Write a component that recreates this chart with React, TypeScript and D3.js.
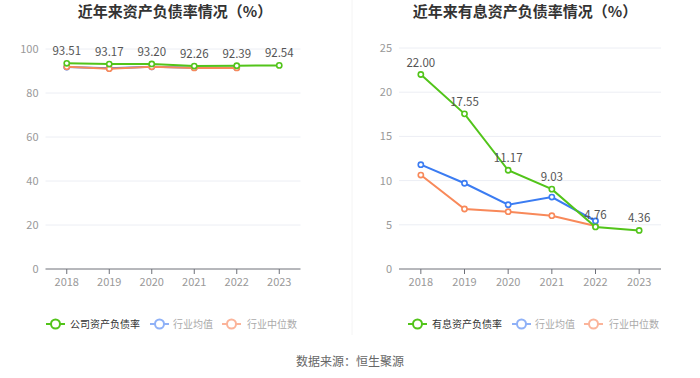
import React from "react";
import * as d3 from "d3";

const years = ["2018", "2019", "2020", "2021", "2022", "2023"];
const leftCompany = [93.51, 93.17, 93.2, 92.26, 92.39, 92.54];
const leftAvg = [91.8, 91.2, 91.9, 91.5, 91.5];
const leftMedian = [91.9, 91.05, 91.9, 91.4, 91.4];
const rightCompany = [22.0, 17.55, 11.17, 9.03, 4.76, 4.36];
const rightAvg = [11.8, 9.7, 7.27, 8.14, 5.43];
const rightMedian = [10.63, 6.79, 6.48, 6.03, 4.86];
const leftTicks = [0, 20, 40, 60, 80, 100];
const rightTicks = [0, 5, 10, 15, 20, 25];

const GREEN = "#52c41a";
const BLUE = "#3b7cf2";
const ORANGE = "#f8895a";
const FONT = "'Noto Sans CJK SC', 'Noto Sans', sans-serif";

type PanelProps = {
  title: string;
  x0: number;
  x1: number;
  yMax: number;
  yTop: number;
  ticks: number[];
  company: number[];
  avg: number[];
  median: number[];
  titleX: number;
  legendName: string;
  legendX: number;
  medianOnTop: boolean;
};

function Series({ data, color, xs, ys, labels }: { data: number[]; color: string; xs: d3.ScaleBand<string>; ys: d3.ScaleLinear<number, number>; labels?: boolean }) {
  const cx = (i: number) => (xs(years[i]) as number) + xs.bandwidth() / 2;
  const line = d3
    .line<number>()
    .x((_, i) => cx(i))
    .y((d) => ys(d));
  return (
    <g>
      <path d={line(data) || ""} fill="none" stroke={color} strokeWidth={2} />
      {data.map((d, i) => (
        <circle key={i} cx={cx(i)} cy={ys(d)} r={2.6} fill="#fff" stroke={color} strokeWidth={1.6} />
      ))}
      {labels &&
        data.map((d, i) => (
          <text key={"l" + i} x={cx(i)} y={ys(d) - 8} textAnchor="middle" fontSize={11.5} fill="#555" fontFamily={FONT}>
            {d.toFixed(2)}
          </text>
        ))}
    </g>
  );
}

function LegendIcon({ x, y, color }: { x: number; y: number; color: string }) {
  return (
    <g>
      <line x1={x} x2={x + 19} y1={y} y2={y} stroke={color} strokeWidth={2} />
      <circle cx={x + 9.5} cy={y} r={4.5} fill="#fff" stroke={color} strokeWidth={2} />
    </g>
  );
}

function Panel(p: PanelProps) {
  const xs = d3.scaleBand<string>().domain(years).range([p.x0, p.x1]).padding(0);
  const ys = d3.scaleLinear().domain([0, p.yMax]).range([269, p.yTop]);
  const ly = 324;
  const lx = p.legendX;
  return (
    <g>
      <text x={p.titleX} y={17} textAnchor="middle" fontSize={15} fontWeight="bold" fill="#333" fontFamily={FONT}>
        {p.title}
      </text>
      {p.ticks.map((t) => (
        <g key={t}>
          {t > 0 && <line x1={p.x0} x2={p.x1} y1={ys(t)} y2={ys(t)} stroke="#eceef4" strokeWidth={1} />}
          <text x={p.x0 - 7} y={ys(t) + 4} textAnchor="end" fontSize={11} fill="#999" fontFamily={FONT}>
            {t}
          </text>
        </g>
      ))}
      <line x1={p.x0} x2={p.x1} y1={269} y2={269} stroke="#6e7079" strokeWidth={1} />
      {years.map((y) => {
        const c = (xs(y) as number) + xs.bandwidth() / 2;
        return (
          <g key={y}>
            <line x1={c} x2={c} y1={269} y2={274} stroke="#6e7079" strokeWidth={1} />
            <text x={c} y={286} textAnchor="middle" fontSize={11} fill="#999" fontFamily={FONT}>
              {y}
            </text>
          </g>
        );
      })}
      {p.medianOnTop ? (
        <>
          <Series data={p.avg} color={BLUE} xs={xs} ys={ys} />
          <Series data={p.median} color={ORANGE} xs={xs} ys={ys} />
        </>
      ) : (
        <>
          <Series data={p.median} color={ORANGE} xs={xs} ys={ys} />
          <Series data={p.avg} color={BLUE} xs={xs} ys={ys} />
        </>
      )}
      <Series data={p.company} color={GREEN} xs={xs} ys={ys} labels />
      <LegendIcon x={lx} y={ly} color={GREEN} />
      <text x={lx + 24} y={ly + 4} fontSize={10} fill="#333" fontFamily={FONT}>
        {p.legendName}
      </text>
      <LegendIcon x={lx + 104} y={ly} color="#8fb1f7" />
      <text x={lx + 127} y={ly + 4} fontSize={10} fill="#aaa" fontFamily={FONT}>
        行业均值
      </text>
      <LegendIcon x={lx + 176} y={ly} color="#fbb49a" />
      <text x={lx + 201} y={ly + 4} fontSize={10} fill="#aaa" fontFamily={FONT}>
        行业中位数
      </text>
    </g>
  );
}

export default function App() {
  return (
    <div style={{ position: "fixed", left: 0, top: 0, width: 700, height: 378, background: "#fff" }}>
      <svg width={700} height={378} style={{ display: "block" }}>
        <rect width={700} height={378} fill="#fff" />
        <line x1={352} x2={352} y1={0} y2={335} stroke="#f4f4f4" strokeWidth={1} />
        <Panel
          title="近年来资产负债率情况（%）"
          x0={45.5}
          x1={300.5}
          yMax={100}
          yTop={49}
          ticks={leftTicks}
          company={leftCompany}
          avg={leftAvg}
          median={leftMedian}
          titleX={175}
          legendName="公司资产负债率"
          legendX={46}
          medianOnTop={true}
        />
        <Panel
          title="近年来有息资产负债率情况（%）"
          x0={399}
          x1={661}
          yMax={25}
          yTop={48}
          ticks={rightTicks}
          company={rightCompany}
          avg={rightAvg}
          median={rightMedian}
          titleX={525}
          legendName="有息资产负债率"
          legendX={408}
          medianOnTop={false}
        />
        <text x={350} y={366} textAnchor="middle" fontSize={12} fill="#666" fontFamily={FONT}>
          数据来源：恒生聚源
        </text>
      </svg>
    </div>
  );
}
